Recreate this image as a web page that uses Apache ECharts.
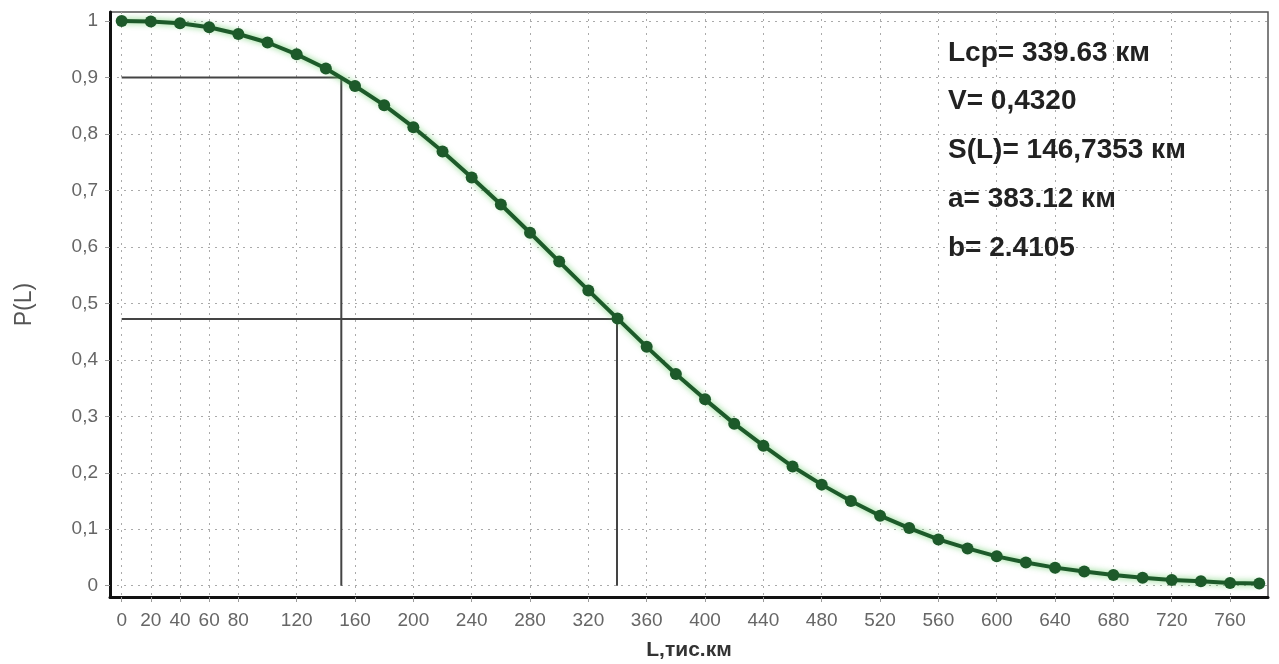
<!DOCTYPE html>
<html>
<head>
<meta charset="utf-8">
<script src="https://cdn.jsdelivr.net/npm/echarts@6/dist/echarts.min.js"></script>
<style>
  html, body {margin: 0; padding: 0; background: #fff;}
  #chart {width: 1279px; height: 664px;}
</style>
</head>
<body>
<div id="chart"></div>
<script>
// пробег, тыс. км
var mileage = [0, 20, 40, 60, 80, 100, 120, 140, 160, 180, 200, 220, 240, 260, 280, 300, 320, 340, 360, 380,
  400, 420, 440, 460, 480, 500, 520, 540, 560, 580, 600, 620, 640, 660, 680, 700, 720, 740, 760, 780];
// вероятность безотказной работы P(L)
var probability = [1.000, 0.999, 0.996, 0.989, 0.977, 0.962, 0.941, 0.916, 0.885, 0.851, 0.812, 0.769,
  0.723, 0.675, 0.625, 0.574, 0.523, 0.473, 0.423, 0.375, 0.330, 0.287, 0.248, 0.211, 0.179, 0.150,
  0.124, 0.102, 0.082, 0.066, 0.052, 0.041, 0.032, 0.025, 0.019, 0.014, 0.010, 0.008, 0.005, 0.004];

var xTicks = [0, 20, 40, 60, 80, 120, 160, 200, 240, 280, 320, 360, 400, 440, 480, 520, 560, 600, 640, 680, 720, 760];
var yTicks = [0, 0.1, 0.2, 0.3, 0.4, 0.5, 0.6, 0.7, 0.8, 0.9, 1];

// гамма-процентный ресурс (P = 0,9) и средний ресурс
var gammaLine = [[0, 0.9], [150.6, 0.9], [150.6, 0]];
var meanLine = [[0, 0.4725], [339.63, 0.4725], [339.63, 0]];

var stats = ['Lcp= 339.63 км', 'V= 0,4320', 'S(L)= 146,7353 км', 'a= 383.12 км', 'b= 2.4105'];

var points = mileage.map(function (l, i) { return [l, probability[i]]; });

var myChart = echarts.init(document.getElementById('chart'));

var font = '"Liberation Sans", Arial, sans-serif';
var gridLine = {show: true, lineStyle: {color: '#aaa', type: [2, 5], width: 1}};
var labelFont = {color: '#666', fontSize: 19, fontFamily: font};

myChart.setOption({
  animation: false,
  backgroundColor: '#fff',
  grid: {
    left: 110, right: 11, top: 12, bottom: 67,
    containLabel: false, outerBoundsMode: 'none',
    show: true, borderColor: '#555', borderWidth: 1.5
  },
  xAxis: {
    type: 'value',
    min: -8,
    max: 786,
    name: 'L,тис.км',
    nameLocation: 'middle',
    nameGap: 43,
    nameTextStyle: {color: '#333', fontSize: 21, fontWeight: 'bold', fontFamily: font},
    axisLine: {show: true, onZero: false, lineStyle: {color: '#111', width: 3}},
    axisTick: {show: true, length: 5, customValues: xTicks, lineStyle: {color: '#999'}},
    axisLabel: Object.assign({customValues: xTicks, margin: 14}, labelFont),
    splitLine: gridLine
  },
  yAxis: {
    type: 'value',
    min: -0.02,
    max: 1.016,
    name: 'P(L)',
    nameLocation: 'middle',
    nameGap: 74,
    nameTextStyle: {color: '#555', fontSize: 23, fontFamily: font},
    axisLine: {show: true, onZero: false, lineStyle: {color: '#111', width: 3}},
    axisTick: {show: true, length: 5, customValues: yTicks, lineStyle: {color: '#999'}},
    axisLabel: Object.assign({
      customValues: yTicks,
      margin: 12,
      formatter: function (v) { return String(Math.round(v * 10) / 10).replace('.', ','); }
    }, labelFont),
    splitLine: gridLine
  },
  graphic: stats.map(function (s, i) {
    return {
      type: 'text',
      x: 948,
      y: 53 + i * 48.7,
      z: 100,
      style: {text: s, fill: '#222', verticalAlign: 'middle', font: 'bold 28px ' + font}
    };
  }),
  series: [
    {
      type: 'line',
      data: gammaLine,
      symbol: 'none',
      silent: true,
      lineStyle: {color: '#444', width: 2}
    },
    {
      type: 'line',
      data: meanLine,
      symbol: 'none',
      silent: true,
      lineStyle: {color: '#444', width: 2}
    },
    {
      type: 'line',
      data: points,
      symbol: 'circle',
      symbolSize: 12,
      z: 5,
      itemStyle: {color: '#1d5a2a'},
      lineStyle: {color: '#1d5a2a', width: 4, shadowColor: 'rgba(90,200,90,0.8)', shadowBlur: 6}
    }
  ]
});
</script>
</body>
</html>
